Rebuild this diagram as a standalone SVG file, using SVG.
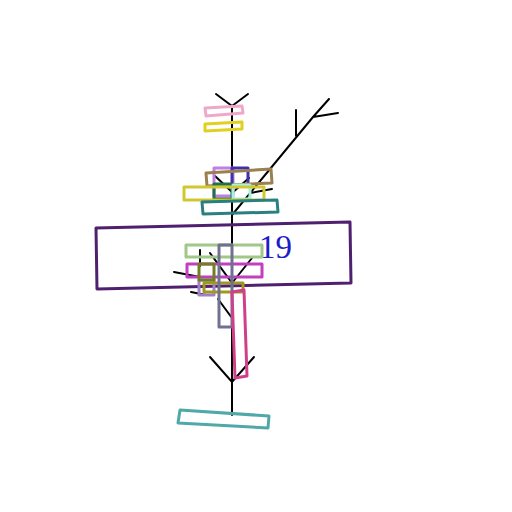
<svg xmlns="http://www.w3.org/2000/svg" width="512" height="512" viewBox="0 0 512 512">
<style>
.ln{stroke:#000;stroke-width:2;fill:none;stroke-linecap:round}
.bx{fill:none;stroke-width:3;stroke-linejoin:round}
</style>
<rect width="512" height="512" fill="#fff"/>
<g id="connectors">
<path class="ln" d="M232 106 V415"/>
<path class="ln" d="M216 94 L232 106 L248 94"/>
<path class="ln" d="M232 215 L313 117 L329 99 M313 117 L338 113 M296 110 V136"/>
<path class="ln" d="M215 176 L232 192 M249 178 L232 193 M250 193 L272 189"/>
<path class="ln" d="M200 250 V266 M210 253 L232 283 M252 258 L232 283 M174 272 L200 277 M191 292 L206 295 M218 299 L232 318"/>
<path class="ln" d="M210 357 L232 382 L254 357"/>
</g>
<g id="n1"><path class="bx" stroke="#f0a8c8" d="M205 108 L242 106 L243 113 L206 116 Z"/></g>
<g id="n2"><path class="bx" stroke="#e0d020" d="M205 124 L242 122 L242 129 L205 131 Z"/></g>
<g id="n3"><rect class="bx" stroke="#c080e0" x="214" y="168" width="19" height="28"/></g>
<g id="n4"><rect class="bx" stroke="#4030b0" x="232" y="168" width="16" height="17"/></g>
<g id="n5"><path class="bx" stroke="#9a8050" d="M206 173 L271 169 L272 183 L207 186 Z"/></g>
<g id="n6"><rect class="bx" stroke="#207050" x="214" y="184" width="18" height="15"/></g>
<g id="n7"><rect class="bx" stroke="#a8f0e0" x="233" y="185" width="17" height="14"/></g>
<g id="n8"><rect class="bx" stroke="#d0c830" x="184" y="187" width="80" height="13"/></g>
<g id="n9"><path class="bx" stroke="#2a8080" d="M202 202 L277 200 L278 212 L203 214 Z"/></g>
<g id="n10"><path class="bx" stroke="#502070" d="M96 228 L350 222 L351 283 L97 289 Z"/></g>
<g id="n11"><text x="259" y="258" font-family="Liberation Serif, serif" font-size="33" fill="#1c1cc8">19</text></g>
<g id="n12"><rect class="bx" stroke="#a0c888" x="186" y="245" width="76" height="12"/></g>
<g id="n13"><rect class="bx" stroke="#c040c0" x="187" y="264" width="75" height="13"/></g>
<g id="n14"><rect class="bx" stroke="#a080c8" x="199" y="280" width="15" height="15"/></g>
<g id="n15"><rect class="bx" stroke="#a09820" x="204" y="283" width="39" height="9"/></g>
<g id="n16"><rect class="bx" stroke="#708020" x="199" y="264" width="15" height="16"/></g>
<g id="n17"><rect class="bx" stroke="#707090" x="219" y="245" width="13" height="82"/></g>
<g id="n18"><path class="bx" stroke="#d0408a" d="M232 292 L244 290 L247 376 L235 378 Z"/></g>
<g id="n19"><path class="bx" stroke="#50a8a8" d="M180 410 L269 416 L268 428 L178 423 Z"/></g>
</svg>
